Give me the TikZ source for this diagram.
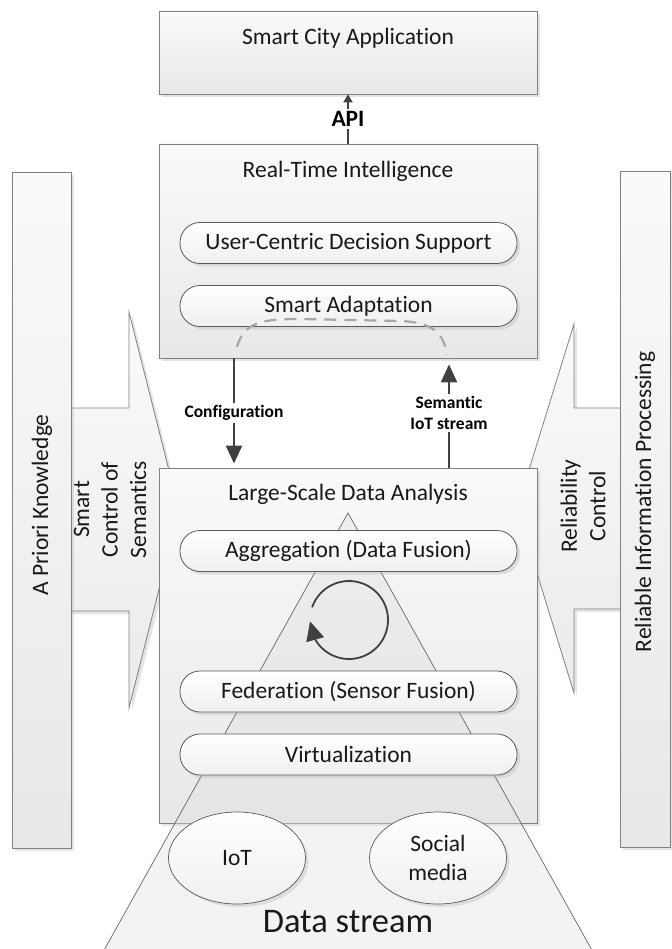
\documentclass[tikz,border=0pt]{standalone}
\usepackage{fontspec}
\setmainfont[Ligatures=NoCommon]{Carlito}
\usetikzlibrary{arrows.meta,shadows,bending,shapes.geometric}

\definecolor{edgegray}{HTML}{808080}
\definecolor{pillgray}{HTML}{5A5A5A}
\definecolor{ink}{HTML}{404040}
\definecolor{dashgray}{HTML}{A6A6A6}

\tikzset{
  softshadow/.style={drop shadow={shadow xshift=3pt, shadow yshift=-3pt, fill=black!30, opacity=0.35}},
  mainbox/.style={draw=edgegray, line width=0.8pt, top color=black!2, bottom color=black!9, softshadow, inner sep=0pt},
  sidebox/.style={mainbox, minimum height=676pt},
  sidearrow/.style={draw=edgegray, line width=0.8pt, top color=black!2, bottom color=black!8, softshadow},
  pill/.style={draw=pillgray, line width=0.8pt, rounded corners=20pt, minimum width=337pt, minimum height=41pt, top color=white, bottom color=black!6, softshadow, inner sep=0pt},
  blob/.style={ellipse, draw=pillgray, line width=0.7pt, minimum width=137pt, minimum height=92pt, top color=white, bottom color=black!6, softshadow, inner sep=0pt, align=center},
  flow/.style={draw=ink, line width=2.2pt, -{Triangle[length=18pt,width=16pt]}},
  flowlabel/.style={fill=white, inner sep=2pt, text=black, font=\bfseries\fontsize{17.5}{21.5}\selectfont, align=center},
}

\begin{document}
\begin{tikzpicture}[x=1pt,y=1pt, every node/.style={font=\fontsize{23.5}{28.5}\selectfont, text=black!90}]
\useasboundingbox (0,0) rectangle (671,-949);

% block arrows between the side columns and the analysis layer
\path[sidearrow] (60,-408) -- (129,-408) -- (129,-312) -- (179,-510) -- (129,-708) -- (129,-611) -- (60,-611) -- cycle;
\path[sidearrow] (630,-408) -- (574,-408) -- (574,-324) -- (517,-508.5) -- (574,-693) -- (574,-609) -- (630,-609) -- cycle;

% side columns
\node[sidebox, minimum width=59pt] (prior) at (41.5,-510) {};
\node[sidebox, minimum width=50pt] (reliab) at (645,-509) {};

% main layers
\node[mainbox, minimum width=378pt, minimum height=83pt] (app) at (348,-52.5) {};
\node[mainbox, minimum width=378pt, minimum height=214pt] (rti) at (348,-251) {};
\node[mainbox, minimum width=378pt, minimum height=355pt] (lsda) at (348,-645.5) {};

% data pyramid
\path[draw=black!60, line width=0.7pt, fill=black!12, fill opacity=0.4] (348,-513) -- (98,-961) -- (598,-961) -- cycle;

% processing stages
\node[pill] (ucds) at (348.5,-243) {User-Centric Decision Support};
\node[pill] (sadapt) at (348.5,-306) {Smart Adaptation};
\node[pill] (aggr) at (348.5,-551) {Aggregation (Data Fusion)};
\node[pill] (fed) at (348.5,-691.5) {Federation (Sensor Fusion)};
\node[pill] (virt) at (348.5,-754.5) {Virtualization};

% feedback loop
\coordinate (loopc) at (349,-620);
\draw[draw=ink, line width=1.8pt, -{Triangle[length=19pt,width=18pt]}] ([shift={(161:39)}]loopc) arc[start angle=161, end angle=-178, radius=39];

% data sources
\node[blob] (iot) at (237,-858) {IoT};
\node[blob] (social) at (438,-858) {Social\\media};
\node[font=\fontsize{34.5}{40}\selectfont] (stream) at (348,-922) {Data stream};

% layer titles
\node (apptxt) at (348,-38) {Smart City Application};
\node (rtitxt) at (348,-171) {Real-Time Intelligence};
\node (lsdatxt) at (348,-494) {Large-Scale Data Analysis};
\node[rotate=90] (priortxt) at (42,-505) {A Priori Knowledge};
\node[rotate=90] (reliabtxt) at (645,-502) {Reliable Information Processing};
\node[rotate=90, align=center] (semtxt) at (110,-509.5) {Smart\\Control of\\Semantics};
\node[rotate=90, align=center] (reltxt) at (583,-506) {Reliability\\Control};

% interfaces between layers
\draw[draw=ink, line width=2pt, -{Triangle[length=8pt,width=9pt]}] (rti.north) -- (app.south)
  node[midway, fill=white, inner sep=2pt, text=black, font=\bfseries\fontsize{23.5}{28}\selectfont] {API};

\coordinate (cfgx) at (234,0);
\coordinate (semx) at (449,0);
\draw[flow, shorten >=4pt] (rti.south -| cfgx) -- (lsda.north -| cfgx) node[midway, flowlabel] {Configuration};
\draw[flow, shorten >=6pt] (lsda.north -| semx) -- (rti.south -| semx) node[midway, flowlabel] {Semantic\\IoT stream};

% adaptation cycle
\coordinate (dashL) at (237,-347);
\coordinate (dashR) at (447,-355);
\draw[draw=dashgray, line width=2.2pt, dash pattern=on 12pt off 8pt] (dashL) .. controls (244,-322) and (262,-319) .. (300,-319) -- (400,-321) .. controls (432,-322) and (444,-333) .. (dashR);

\end{tikzpicture}
\end{document}
